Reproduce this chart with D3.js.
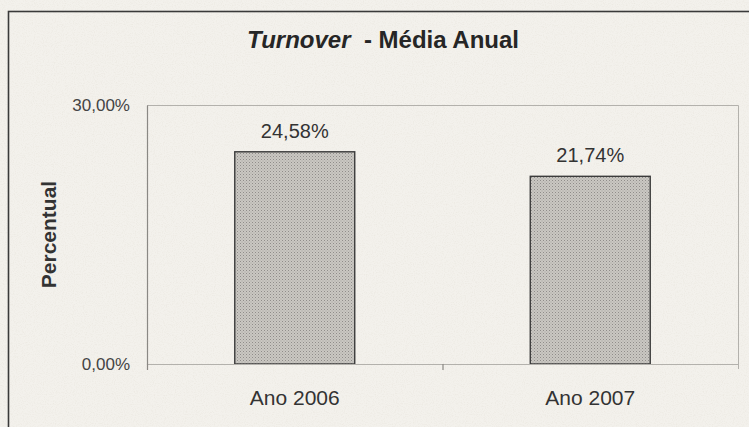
<!DOCTYPE html>
<html>
<head>
<meta charset="utf-8">
<script src="https://cdn.jsdelivr.net/npm/d3@7/dist/d3.min.js"></script>
<style>
  html, body { margin: 0; padding: 0; background: #f3f1ec; }
  svg { display: block; }
  text { font-family: "Liberation Sans", Arial, sans-serif; }
</style>
</head>
<body>
<svg id="chart" width="749" height="427"></svg>
<script>
// Annual average turnover per year
const categories = ["Ano 2006", "Ano 2007"];
const values = [24.58, 21.74];
const yTicks = [0, 30];

const width = 749, height = 427;
const margin = { left: 147, right: 11, top: 105, bottom: 63 };

const svg = d3.select("#chart");

// paper texture
const defs = svg.append("defs");
const grain = defs.append("filter").attr("id", "grain")
  .attr("x", 0).attr("y", 0).attr("width", "100%").attr("height", "100%");
grain.append("feTurbulence").attr("type", "fractalNoise")
  .attr("baseFrequency", 0.9).attr("numOctaves", 2).attr("seed", 7);
grain.append("feColorMatrix").attr("type", "matrix")
  .attr("values", "0 0 0 0 0.6  0 0 0 0 0.55  0 0 0 0 0.45  0 0 0 -1.6 0.9");

// stippled bar fill
const pat = defs.append("pattern").attr("id", "stipple")
  .attr("patternUnits", "userSpaceOnUse").attr("width", 3).attr("height", 3);
pat.append("rect").attr("width", 3).attr("height", 3).attr("fill", "#cac7c2");
pat.append("rect").attr("width", 1).attr("height", 1).attr("fill", "#8f8d8a");
pat.append("rect").attr("x", 1.5).attr("y", 1.5).attr("width", 1).attr("height", 1).attr("fill", "#a5a39f");

svg.append("rect").attr("width", width).attr("height", height).attr("fill", "#f3f1ec");
svg.append("rect").attr("width", width).attr("height", height)
  .attr("filter", "url(#grain)").attr("opacity", 0.22);

// outer chart border (runs past the right and bottom edges)
svg.append("rect")
  .attr("x", 8.5).attr("y", 11.5).attr("width", 760).attr("height", 430)
  .attr("fill", "none").attr("stroke", "#3a3a3a").attr("stroke-width", 1.6);

const x = d3.scaleBand()
  .domain(categories)
  .range([margin.left, width - margin.right])
  .paddingInner(0.594).paddingOuter(0.297);

const y = d3.scaleLinear()
  .domain([0, 30])
  .range([height - margin.bottom, margin.top]);

const x0 = margin.left, x1 = width - margin.right;
const yTop = y(30), yBase = y(0);

// plot area frame (top & right)
svg.append("path")
  .attr("d", `M${x0},${yTop + 0.5}H${x1 + 0.5}V${yBase + 5}`)
  .attr("fill", "none").attr("stroke", "#b3b1ac").attr("stroke-width", 1);

// bars
svg.selectAll("rect.bar")
  .data(values)
  .enter().append("rect")
  .attr("class", "bar")
  .attr("x", (d, i) => x(categories[i]))
  .attr("y", d => y(d))
  .attr("width", x.bandwidth())
  .attr("height", d => y(0) - y(d))
  .attr("fill", "url(#stipple)")
  .attr("stroke", "#3b3b3b").attr("stroke-width", 1.4);

// value labels
const fmt = v => v.toFixed(2).replace(".", ",") + "%";
svg.selectAll("text.val")
  .data(values)
  .enter().append("text")
  .attr("class", "val")
  .attr("x", (d, i) => x(categories[i]) + x.bandwidth() / 2)
  .attr("y", d => y(d) - 14)
  .attr("text-anchor", "middle")
  .attr("font-size", 20)
  .attr("fill", "#333")
  .text(d => fmt(d));

// y axis
const yAxis = d3.axisLeft(y)
  .tickValues(yTicks)
  .tickSize(0).tickPadding(17)
  .tickFormat(d => d.toFixed(2).replace(".", ",") + "%");
const gy = svg.append("g").attr("transform", `translate(${x0},0)`).call(yAxis);
gy.select(".domain").attr("stroke", "#8a8884").attr("stroke-width", 1.2);
gy.selectAll("text").attr("font-size", 17).attr("fill", "#444")
  .attr("font-family", "Liberation Sans, Arial, sans-serif");

// x axis
const xAxis = d3.axisBottom(x).tickSize(0).tickPadding(26);
const gx = svg.append("g").attr("transform", `translate(0,${yBase})`).call(xAxis);
gx.select(".domain").attr("stroke", "#b3b1ac").attr("stroke-width", 1);
gx.selectAll("text").attr("font-size", 21).attr("fill", "#333")
  .attr("font-family", "Liberation Sans, Arial, sans-serif");

// category separator ticks
const bounds = [x0, x0 + (x1 - x0) / 2];
svg.selectAll("line.ctick")
  .data(bounds)
  .enter().append("line")
  .attr("class", "ctick")
  .attr("x1", d => d + 0.5).attr("x2", d => d + 0.5)
  .attr("y1", yBase).attr("y2", yBase + 6)
  .attr("stroke", "#8a8884").attr("stroke-width", 1.2);

// y axis title
svg.append("text")
  .attr("transform", `translate(56,${(yTop + yBase) / 2}) rotate(-90)`)
  .attr("text-anchor", "middle")
  .attr("font-size", 21).attr("font-weight", "bold").attr("fill", "#333")
  .text("Percentual");

// chart title
const title = svg.append("text")
  .attr("x", 383).attr("y", 48)
  .attr("text-anchor", "middle")
  .attr("font-size", 24).attr("font-weight", "bold").attr("fill", "#262626")
  .attr("xml:space", "preserve");
title.append("tspan").attr("font-style", "italic").text("Turnover");
title.append("tspan").text("  - Média Anual");
</script>
</body>
</html>
